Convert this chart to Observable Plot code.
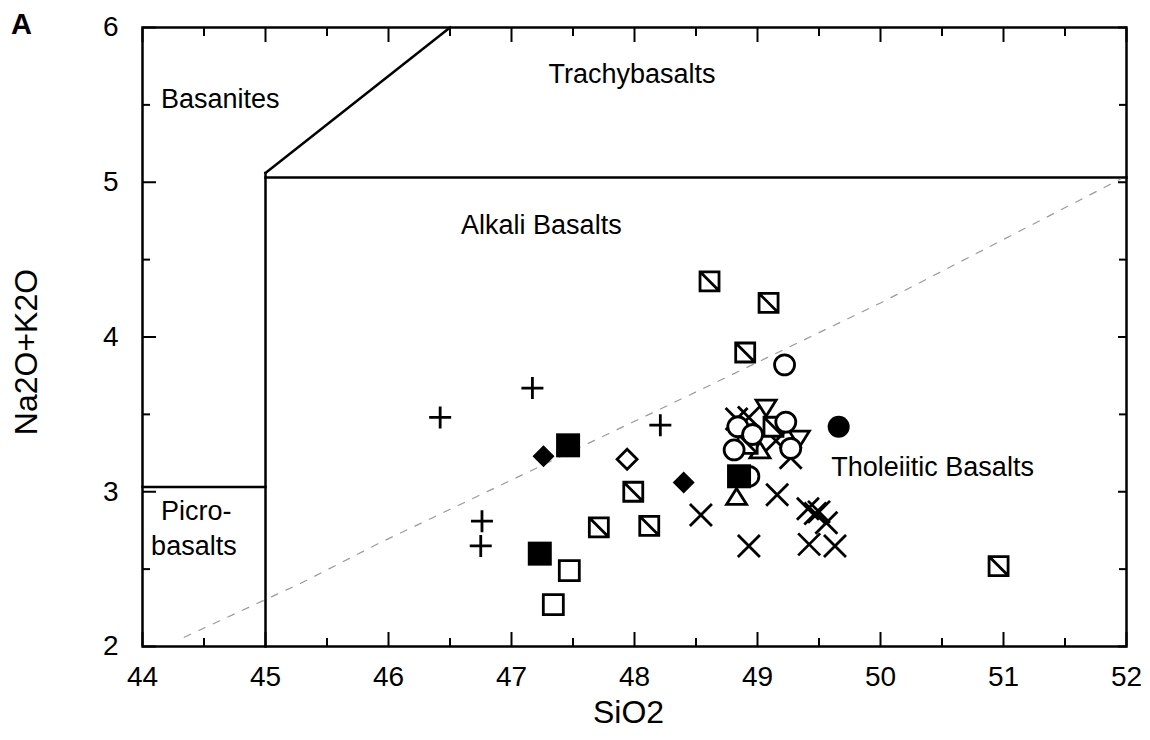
<!DOCTYPE html>
<html>
<head>
<meta charset="utf-8">
<script src="https://cdn.jsdelivr.net/npm/d3@7"></script>
<script src="https://cdn.jsdelivr.net/npm/@observablehq/plot@0.6"></script>
<style>
  html, body { margin: 0; padding: 0; background: #fff; }
  #chart { width: 1150px; height: 740px; }
</style>
</head>
<body>
<div id="chart"></div>
<script>
// ---------- data (SiO2 = x, Na2O+K2O = y) ----------
const plusX = [46.42, 47.17, 48.21, 46.76, 46.75];
const plusY = [3.48, 3.67, 3.43, 2.81, 2.65];

const timesX = [48.54, 49.16, 48.93, 49.41, 49.47, 49.50, 49.56, 49.42, 49.63, 48.83, 48.93, 49.27, 49.15];
const timesY = [2.85, 2.98, 2.65, 2.89, 2.86, 2.87, 2.80, 2.66, 2.65, 3.47, 3.48, 3.22, 3.33];

const triUpX = [48.83, 49.02];
const triUpY = [2.97, 3.27];

const triDownX = [49.07, 49.34];
const triDownY = [3.54, 3.34];

const hatchX = [47.99, 47.71, 48.12, 48.61, 49.09, 48.90, 49.13, 48.92, 50.96];
const hatchY = [3.00, 2.77, 2.78, 4.36, 4.22, 3.90, 3.42, 3.31, 2.52];

const openSqX = [47.47, 47.34];
const openSqY = [2.49, 2.27];

const openCircX = [49.22, 48.84, 48.96, 48.81, 49.23, 49.27, 48.93];
const openCircY = [3.82, 3.42, 3.37, 3.27, 3.45, 3.28, 3.10];

const filledSqX = [47.46, 47.23, 48.85];
const filledSqY = [3.30, 2.60, 3.10];

const filledCircX = [49.66];
const filledCircY = [3.42];

const filledDiaX = [47.26, 48.40];
const filledDiaY = [3.23, 3.06];

const openDiaX = [47.94];
const openDiaY = [3.21];

// field boundaries
const picroX = [44, 45];
const picroY = [3.03, 3.03];
const wall45X = [45, 45];
const wall45Y = [2, 5.06];
const basaltTopX = [45, 52];
const basaltTopY = [5.03, 5.03];
const trachyX = [45, 46.5];
const trachyY = [5.06, 6];
// alkaline / subalkaline divide (dashed)
const divideX = [44.34, 45.29, 45.93, 48.54, 50.0, 51.95];
const divideY = [2.06, 2.41, 2.67, 3.66, 4.22, 5.02];

// field names
const fieldNames = ["Basanites", "Trachybasalts", "Alkali Basalts", "Tholeiitic Basalts", "Picro-", "basalts"];
const fieldX = [44.15, 47.30, 46.59, 49.60, 44.15, 44.07];
const fieldY = [5.535, 5.70, 4.72, 3.157, 2.872, 2.646];

const xMajor = [44, 45, 46, 47, 48, 49, 50, 51, 52];
const xMinor = [44.5, 45.5, 46.5, 47.5, 48.5, 49.5, 50.5, 51.5];
const yMajor = [2, 3, 4, 5, 6];
const yMinor = [2.5, 3.5, 4.5, 5.5];

// ---------- helpers ----------
const pts = (xs, ys) => xs.map((x, i) => ({x, y: ys[i]}));
const rad = (size) => Math.sqrt(size / Math.PI);

const symSquare = {draw(c, s) { const r = rad(s); c.moveTo(-r, -r); c.lineTo(r, -r); c.lineTo(r, r); c.lineTo(-r, r); c.closePath(); }};
const symHatch = {draw(c, s) { const r = rad(s); c.moveTo(-r, -r); c.lineTo(r, -r); c.lineTo(r, r); c.lineTo(-r, r); c.closePath(); c.moveTo(-r, -r); c.lineTo(r, r); }};
const symDiamond = {draw(c, s) { const r = rad(s); c.moveTo(0, -r); c.lineTo(r, 0); c.lineTo(0, r); c.lineTo(-r, 0); c.closePath(); }};
const symPlus = {draw(c, s) { const r = rad(s); c.moveTo(-r, 0); c.lineTo(r, 0); c.moveTo(0, -r); c.lineTo(0, r); }};
const symTimes = {draw(c, s) { const r = rad(s); c.moveTo(-r, -r); c.lineTo(r, r); c.moveTo(r, -r); c.lineTo(-r, r); }};
const symCircle = {draw(c, s) { const r = rad(s); c.moveTo(r, 0); c.arc(0, 0, r, 0, 2 * Math.PI); }};
const symTriUp = {draw(c, s) { const r = rad(s); c.moveTo(0, -0.8 * r); c.lineTo(r, 0.8 * r); c.lineTo(-r, 0.8 * r); c.closePath(); }};
const symTriDown = {draw(c, s) { const r = rad(s); c.moveTo(0, 0.8 * r); c.lineTo(r, -0.8 * r); c.lineTo(-r, -0.8 * r); c.closePath(); }};

const font = "'Liberation Sans', Arial, Helvetica, sans-serif";
const SW = 2.5;
const MW = 2.8;

const boundary = (xs, ys) => Plot.line(pts(xs, ys), {x: "x", y: "y", stroke: "black", strokeWidth: SW, strokeLinecap: "square"});

const chart = Plot.plot({
  width: 1150,
  height: 740,
  marginLeft: 142,
  marginRight: 24,
  marginTop: 27,
  marginBottom: 94,
  style: {fontFamily: font, fontSize: "28px", color: "black", background: "white", overflow: "visible"},
  x: {domain: [44, 52]},
  y: {domain: [2, 6]},
  marks: [
    // ticks (inward) on all four sides
    Plot.axisX(xMajor, {anchor: "bottom", tickSize: -14, strokeWidth: 2, fill: "none"}),
    Plot.axisX(xMinor, {anchor: "bottom", tickSize: -8, strokeWidth: 2, fill: "none"}),
    Plot.axisX(xMajor, {anchor: "top", tickSize: -14, strokeWidth: 2, fill: "none"}),
    Plot.axisX(xMinor, {anchor: "top", tickSize: -8, strokeWidth: 2, fill: "none"}),
    Plot.axisY(yMajor, {anchor: "left", tickSize: -14, strokeWidth: 2, fill: "none"}),
    Plot.axisY(yMinor, {anchor: "left", tickSize: -8, strokeWidth: 2, fill: "none"}),
    Plot.axisY(yMajor, {anchor: "right", tickSize: -9, strokeWidth: 2, fill: "none"}),
    Plot.axisY(yMinor, {anchor: "right", tickSize: -8, strokeWidth: 2, fill: "none"}),
    // tick labels
    Plot.axisX(xMajor, {anchor: "bottom", tickSize: 0, tickPadding: 20, fontSize: 28, label: null, tickFormat: d3.format("d")}),
    Plot.axisY(yMajor, {anchor: "left", tickSize: 0, tickPadding: 24, fontSize: 28, label: null, tickFormat: d3.format("d")}),

    // field boundaries
    boundary(picroX, picroY),
    boundary(wall45X, wall45Y),
    boundary(basaltTopX, basaltTopY),
    boundary(trachyX, trachyY),
    Plot.line(pts(divideX, divideY), {x: "x", y: "y", stroke: "#9a9a9a", strokeWidth: 1.2, strokeDasharray: "7,9"}),

    // field names
    Plot.text(fieldNames.map((t, i) => ({t, x: fieldX[i], y: fieldY[i]})), {x: "x", y: "y", text: "t", textAnchor: "start", fontSize: 27, fill: "black"}),

    // samples
    Plot.dot(pts(timesX, timesY), {x: "x", y: "y", symbol: symTimes, r: 11, stroke: "black", strokeWidth: MW, fill: "none"}),
    Plot.dot(pts(plusX, plusY), {x: "x", y: "y", symbol: symPlus, r: 11, stroke: "black", strokeWidth: MW, fill: "none"}),
    Plot.dot(pts(triUpX, triUpY), {x: "x", y: "y", symbol: symTriUp, r: 10, stroke: "black", strokeWidth: MW, fill: "white"}),
    Plot.dot(pts(triDownX, triDownY), {x: "x", y: "y", symbol: symTriDown, r: 10, stroke: "black", strokeWidth: MW, fill: "white"}),
    Plot.dot(pts(hatchX, hatchY), {x: "x", y: "y", symbol: symHatch, r: 9.5, stroke: "black", strokeWidth: MW, fill: "white"}),
    Plot.dot(pts(openSqX, openSqY), {x: "x", y: "y", symbol: symSquare, r: 10, stroke: "black", strokeWidth: MW, fill: "white"}),
    Plot.dot(pts(openDiaX, openDiaY), {x: "x", y: "y", symbol: symDiamond, r: 10, stroke: "black", strokeWidth: MW, fill: "white"}),
    Plot.dot(pts(openCircX, openCircY), {x: "x", y: "y", symbol: symCircle, r: 10, stroke: "black", strokeWidth: MW, fill: "white"}),
    Plot.dot(pts(filledDiaX, filledDiaY), {x: "x", y: "y", symbol: symDiamond, r: 11, fill: "black", stroke: "none"}),
    Plot.dot(pts(filledSqX, filledSqY), {x: "x", y: "y", symbol: symSquare, r: 12, fill: "black", stroke: "none"}),
    Plot.dot(pts(filledCircX, filledCircY), {x: "x", y: "y", symbol: symCircle, r: 11, fill: "black", stroke: "none"}),

    // frame and titles
    Plot.frame({stroke: "black", strokeWidth: SW}),
    Plot.text(["SiO2"], {frameAnchor: "bottom", textAnchor: "middle", lineAnchor: "middle", dx: -6, dy: 66, fontSize: 32, fill: "black"}),
    Plot.text(["Na2O+K2O"], {frameAnchor: "left", textAnchor: "middle", lineAnchor: "middle", dx: -116, dy: 15, rotate: -90, fontSize: 32, fill: "black"}),
    Plot.text(["A"], {frameAnchor: "top-left", textAnchor: "middle", lineAnchor: "middle", dx: -121, dy: -3, fontSize: 29, fontWeight: "bold", fill: "black"})
  ]
});

document.getElementById("chart").appendChild(chart);
</script>
</body>
</html>
